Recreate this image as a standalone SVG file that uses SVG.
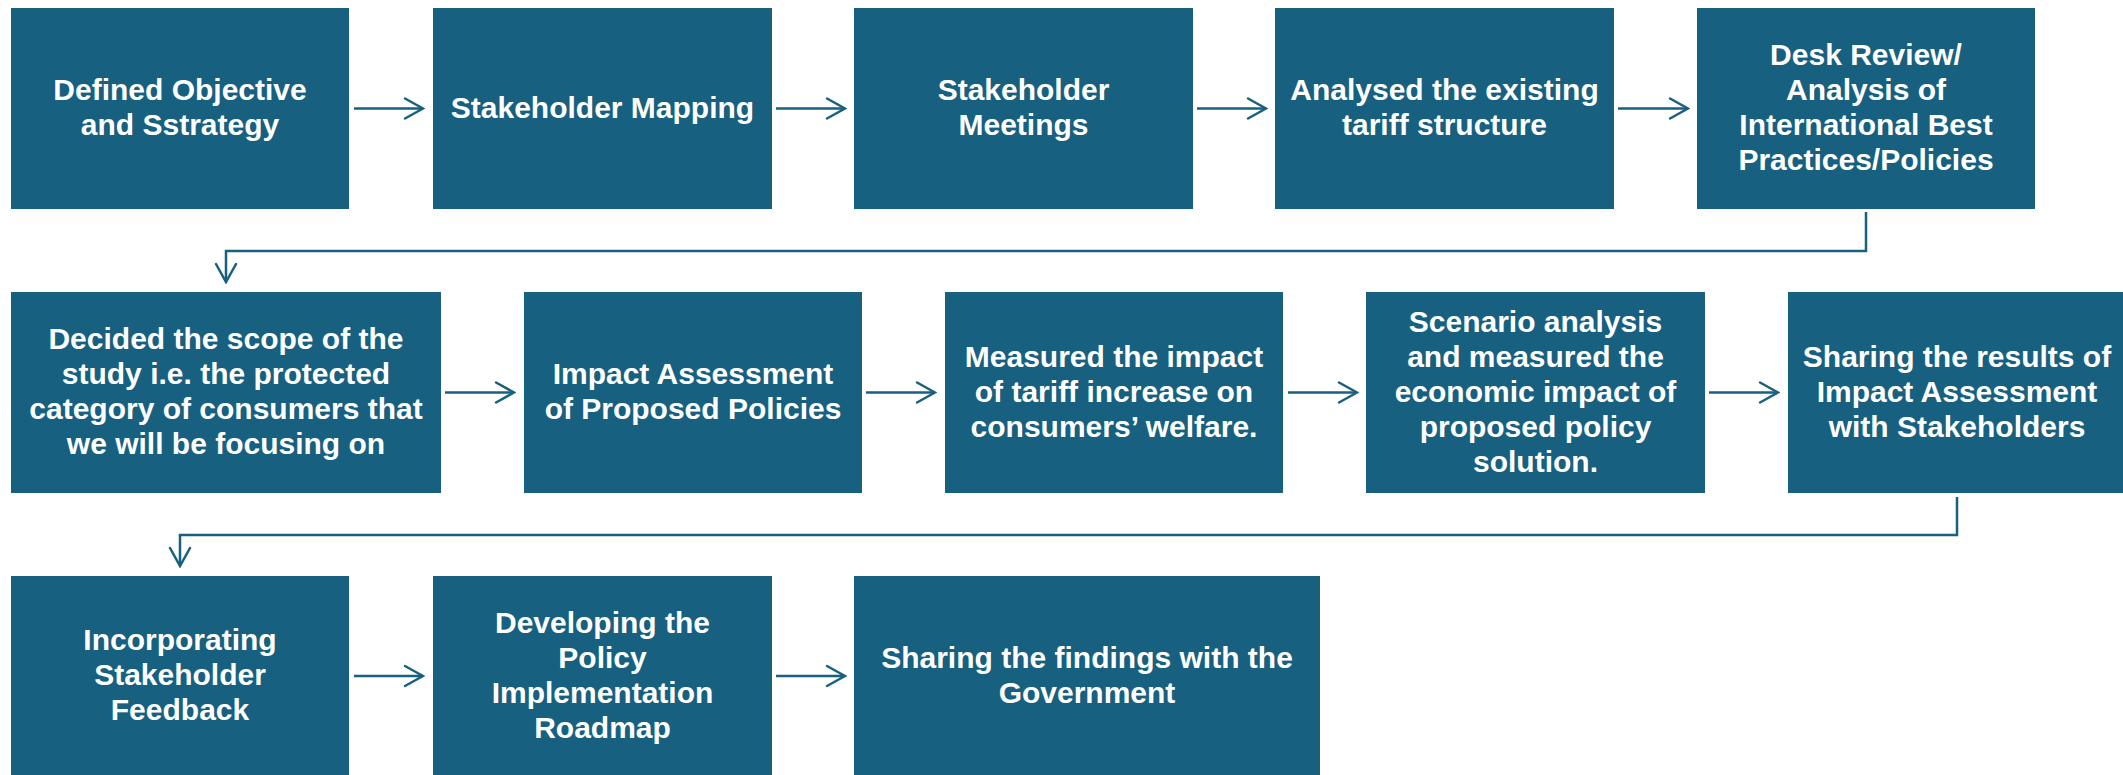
<svg xmlns="http://www.w3.org/2000/svg" width="2123" height="775" viewBox="0 0 2123 775">
  <style>
    .box { fill: #17607F; }
    .lbl { fill: #FFFFFF; font-family: "Liberation Sans", Arial, sans-serif; font-weight: bold; font-size: 30px; text-anchor: middle; }
    .conn { fill: none; stroke: #17607F; stroke-width: 2.5; }
  </style>
  <defs>
    <marker id="arr" markerUnits="userSpaceOnUse" viewBox="0 0 22 24" markerWidth="22" markerHeight="24" refX="20" refY="12" orient="auto">
      <path d="M2,2 L20,12 L2,22" fill="none" stroke="#17607F" stroke-width="2.5" stroke-linecap="round" stroke-linejoin="miter"/>
    </marker>
  </defs>
  <rect width="2123" height="775" fill="#FFFFFF"/>

  <g id="n1"><rect class="box" x="11" y="8" width="338" height="201"/>
    <text class="lbl"><tspan x="180" y="100">Defined Objective</tspan><tspan x="180" y="135">and Sstrategy</tspan></text></g>
  <g id="n2"><rect class="box" x="433" y="8" width="339" height="201"/>
    <text class="lbl"><tspan x="602.5" y="117.5">Stakeholder Mapping</tspan></text></g>
  <g id="n3"><rect class="box" x="854" y="8" width="339" height="201"/>
    <text class="lbl"><tspan x="1023.5" y="100">Stakeholder</tspan><tspan x="1023.5" y="135">Meetings</tspan></text></g>
  <g id="n4"><rect class="box" x="1275" y="8" width="339" height="201"/>
    <text class="lbl"><tspan x="1444.5" y="100">Analysed the existing</tspan><tspan x="1444.5" y="135">tariff structure</tspan></text></g>
  <g id="n5"><rect class="box" x="1697" y="8" width="338" height="201"/>
    <text class="lbl"><tspan x="1866" y="65">Desk Review/</tspan><tspan x="1866" y="100">Analysis of</tspan><tspan x="1866" y="135">International Best</tspan><tspan x="1866" y="170">Practices/Policies</tspan></text></g>

  <g id="n6"><rect class="box" x="11" y="292" width="430" height="201"/>
    <text class="lbl"><tspan x="226" y="349">Decided the scope of the</tspan><tspan x="226" y="384">study i.e. the protected</tspan><tspan x="226" y="419">category of consumers that</tspan><tspan x="226" y="454">we will be focusing on</tspan></text></g>
  <g id="n7"><rect class="box" x="524" y="292" width="338" height="201"/>
    <text class="lbl"><tspan x="693" y="384">Impact Assessment</tspan><tspan x="693" y="419">of Proposed Policies</tspan></text></g>
  <g id="n8"><rect class="box" x="945" y="292" width="338" height="201"/>
    <text class="lbl"><tspan x="1114" y="366.5">Measured the impact</tspan><tspan x="1114" y="401.5">of tariff increase on</tspan><tspan x="1114" y="436.5">consumers’ welfare.</tspan></text></g>
  <g id="n9"><rect class="box" x="1366" y="292" width="339" height="201"/>
    <text class="lbl"><tspan x="1535.5" y="331.5">Scenario analysis</tspan><tspan x="1535.5" y="366.5">and measured the</tspan><tspan x="1535.5" y="401.5">economic impact of</tspan><tspan x="1535.5" y="436.5">proposed policy</tspan><tspan x="1535.5" y="471.5">solution.</tspan></text></g>
  <g id="n10"><rect class="box" x="1788" y="292" width="338" height="201"/>
    <text class="lbl"><tspan x="1957" y="366.5">Sharing the results of</tspan><tspan x="1957" y="401.5">Impact Assessment</tspan><tspan x="1957" y="436.5">with Stakeholders</tspan></text></g>

  <g id="n11"><rect class="box" x="11" y="576" width="338" height="201"/>
    <text class="lbl"><tspan x="180" y="650">Incorporating</tspan><tspan x="180" y="685">Stakeholder</tspan><tspan x="180" y="720">Feedback</tspan></text></g>
  <g id="n12"><rect class="box" x="433" y="576" width="339" height="201"/>
    <text class="lbl"><tspan x="602.5" y="632.5">Developing the</tspan><tspan x="602.5" y="667.5">Policy</tspan><tspan x="602.5" y="702.5">Implementation</tspan><tspan x="602.5" y="737.5">Roadmap</tspan></text></g>
  <g id="n13"><rect class="box" x="854" y="576" width="466" height="201"/>
    <text class="lbl"><tspan x="1087" y="667.5">Sharing the findings with the</tspan><tspan x="1087" y="702.5">Government</tspan></text></g>

  <g id="connectors">
    <path class="conn" d="M354,108.5 H423" marker-end="url(#arr)"/>
    <path class="conn" d="M776,108.5 H845" marker-end="url(#arr)"/>
    <path class="conn" d="M1197,108.5 H1266" marker-end="url(#arr)"/>
    <path class="conn" d="M1618,108.5 H1688" marker-end="url(#arr)"/>
    <path class="conn" d="M1866,212 V251 H226 V282" marker-end="url(#arr)"/>
    <path class="conn" d="M445,392.5 H514" marker-end="url(#arr)"/>
    <path class="conn" d="M866,392.5 H935" marker-end="url(#arr)"/>
    <path class="conn" d="M1288,392.5 H1357" marker-end="url(#arr)"/>
    <path class="conn" d="M1709,392.5 H1778" marker-end="url(#arr)"/>
    <path class="conn" d="M1957,497 V535 H180 V566" marker-end="url(#arr)"/>
    <path class="conn" d="M354,676 H423" marker-end="url(#arr)"/>
    <path class="conn" d="M776,676 H845" marker-end="url(#arr)"/>
  </g>
</svg>
